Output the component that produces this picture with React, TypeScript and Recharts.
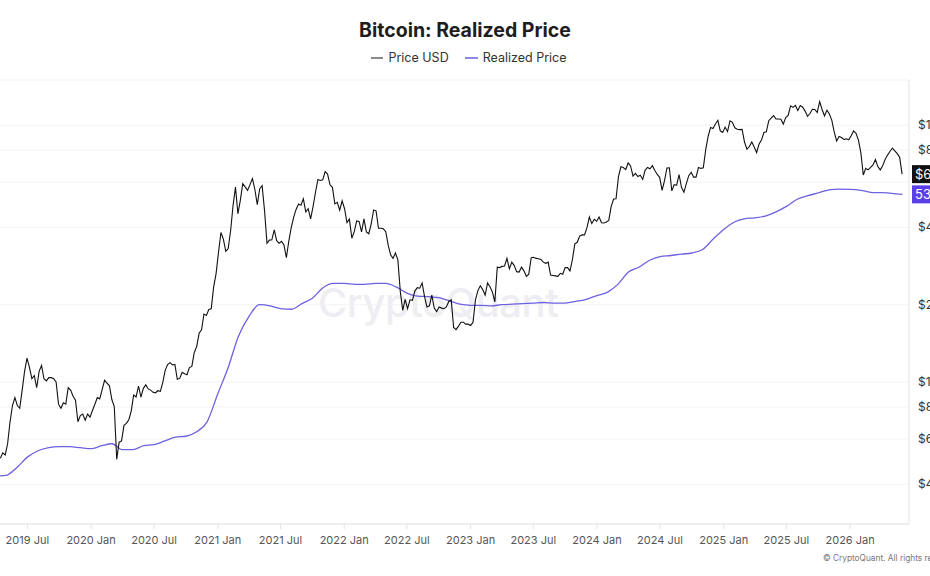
import { LineChart, Line, XAxis, YAxis, CartesianGrid, ReferenceLine } from 'recharts'

const DAY = 86400000
const WEEK = 7 * DAY

// weekly BTC price (USD), each block starts on the Sunday given with it
const price2019 = [
  5050, 5300, 5200, 5750, 7000, 8100, 8700, 8100, 7900, 9300, 11000, 12400,
  11400, 10300, 10600, 9500, 11000, 11600, 10300, 10100, 10400, 10400, 10300,
  10000, 8200, 7900, 8300, 8200, 9500, 9300, 8800, 8500, 7000, 7400, 7500, 7100,
  7500, 7300,
]
const price2020 = [
  7750, 8190, 8700, 8600, 9340, 10160, 9900, 9670, 8550, 8030, 5000, 5830, 5900,
  6780, 6900, 7130, 7700, 8900, 8750, 9650, 8730, 9450, 9750, 9400, 9300, 9120,
  9080, 9250, 9200, 9950, 11100, 11700, 11900, 11650, 11700, 10250, 10330, 10920,
  10770, 10670, 11380, 11500, 13030, 13740, 15480, 15960, 18400, 18180, 19150,
  19270, 23480, 26450,
]
const price2021 = [
  32000, 38200, 36000, 32300, 33100, 38900, 48700, 57400, 45200, 51000, 59200,
  57500, 55800, 58700, 62000, 56200, 49100, 56600, 58200, 46400, 34700, 35700,
  35800, 39100, 35500, 34700, 35300, 34200, 30500, 35400, 39900, 43800, 47000,
  49300, 48800, 51700, 46000, 47300, 43200, 48200, 54700, 61500, 60900, 61300,
  66000, 64500, 58600, 57300, 49400, 50100, 46700, 50800,
]
const price2022 = [
  47300, 41800, 43100, 36300, 38500, 42400, 42200, 38400, 43200, 38400, 37800,
  41300, 46800, 46400, 39700, 39700, 39500, 38500, 34100, 31300, 30300, 31800,
  29900, 22500, 19000, 21000, 19300, 20900, 20800, 22600, 23300, 23200, 24300,
  21500, 19600, 19800, 21800, 19400, 18800, 19600, 19400, 19300, 19600, 20600,
  20900, 16300, 16000, 16500, 17100, 17100, 16800, 16800,
]
const price2023 = [
  16600, 17100, 20900, 22700, 23700, 22900, 21800, 24300, 23500, 22400, 20500,
  28000, 27900, 28200, 28300, 30300, 27600, 29300, 28400, 26900, 26800, 28000,
  27100, 25800, 26300, 30500, 30600, 30300, 30200, 30000, 29300, 29000, 29300,
  26100, 26000, 25900, 25800, 26500, 26300, 27900, 27900, 27100, 30000, 34500,
  35000, 37000, 37400, 37400, 39900, 43900, 41400, 43000, 42300,
]
const price2024 = [
  43900, 41700, 41600, 42000, 42600, 48300, 51600, 51700, 63100, 68900, 68400,
  67200, 71300, 69400, 63400, 64900, 63100, 63800, 61500, 66900, 68500, 67700,
  69600, 66600, 64300, 62700, 55800, 60800, 68200, 68300, 55500, 58700, 58400,
  64200, 57300, 54800, 59200, 63600, 65600, 62800, 62800, 68400, 67900, 68200,
  80400, 90600, 98000, 97100, 101100, 104500, 95100, 93700,
]
const price2025 = [
  98300, 94500, 104000, 102600, 97700, 96500, 96100, 96300, 86000, 80700, 82600,
  86000, 82300, 78300, 84500, 87500, 93700, 94300, 104100, 106500, 109000,
  105700, 105700, 105500, 101000, 107100, 109200, 119000, 117300, 119400, 114200,
  119300, 117500, 113500, 108300, 111100, 115300, 115200, 112100, 123500, 115100,
  108600, 114500, 110600, 104700, 94200, 86800, 90400, 89500, 88000, 88500, 87800,
]
const price2026 = [
  91000, 95000, 93000, 87500, 78000, 64000, 68000, 67000, 68500, 70000, 73500,
  69000, 67000, 69500, 73500, 76500, 79000, 81500, 79500, 77500, 75000, 64500,
]

const priceBlocks: [number, number, number, number[]][] = [
  [2019, 4, 14, price2019],
  [2020, 1, 5, price2020],
  [2021, 1, 3, price2021],
  [2022, 1, 2, price2022],
  [2023, 1, 1, price2023],
  [2024, 1, 7, price2024],
  [2025, 1, 5, price2025],
  [2026, 1, 4, price2026],
]

// realized price (USD) on the 1st of each month, from April 2019
const realizedPrice = [
  4300, 4330, 4650, 5100, 5400, 5550, 5600, 5600, 5550,
  5500, 5650, 5750, 5450, 5450, 5650, 5700, 5900, 6100, 6150, 6400, 7000,
  9000, 11500, 15000, 18000, 20000, 19800, 19300, 19200, 20200, 21200, 23300, 24200,
  24200, 24000, 24000, 24200, 24200, 23400, 22200, 21600, 21500, 21300, 20700, 20100,
  19900, 19900, 19800, 20000, 20100, 20200, 20300, 20400, 20300, 20300, 20600, 21000,
  21700, 22400, 24000, 26800, 28000, 29800, 30800, 31100, 31500, 31800, 32800, 36000,
  39300, 42000, 43200, 43600, 44300, 46000, 48300, 51500, 53200, 54500, 56000, 56400,
  56300, 55800, 54800, 54600, 54300, 53800,
]

const xTicks: [number, number][] = [
  [2019, 7], [2020, 1], [2020, 7], [2021, 1], [2021, 7], [2022, 1], [2022, 7],
  [2023, 1], [2023, 7], [2024, 1], [2024, 7], [2025, 1], [2025, 7], [2026, 1],
]
const yTicks = [4000, 6000, 8000, 10000, 20000, 40000, 60000, 80000, 100000]

const MONTHS = ['Jan', 'Feb', 'Mar', 'Apr', 'May', 'Jun', 'Jul', 'Aug', 'Sep', 'Oct', 'Nov', 'Dec']

const priceData = priceBlocks.flatMap(([y, m, d, values]) =>
  values.map((price, i) => ({ t: Date.UTC(y, m - 1, d) + i * WEEK, price }))
)
const realizedData = realizedPrice.map((realized, i) => ({ t: Date.UTC(2019, 3 + i, 1), realized }))

const X_MIN = Date.UTC(2019, 3, 13)
const X_MAX = Date.UTC(2026, 5, 20)

const lastPrice = price2026[price2026.length - 1]
const lastRealized = realizedPrice[realizedPrice.length - 1]

const FONT = 'Inter, "Noto Sans", sans-serif'
const PURPLE = '#6c61e0'

const fmtK = (v: number) => `${(v / 1000).toFixed(1)}K`

function Badge({ viewBox, text, fill }: any) {
  const left = viewBox.x + viewBox.width + 3
  return (
    <g>
      <rect x={left} y={viewBox.y - 9} width={44} height={18} fill={fill} />
      <text x={left + 3} y={viewBox.y + 4.5} fill="#fff" fontSize={13} fontFamily={FONT}>
        {text}
      </text>
    </g>
  )
}

function PriceTick({ x, y, payload }: any) {
  // 60K sits under the price badge
  if (payload.value === 60000) return <g />
  return (
    <text x={x} y={y + 4} fill="#333" fontSize={12} fontFamily={FONT}>
      ${payload.value / 1000}K
    </text>
  )
}

export default function App() {
  return (
    <div
      style={{
        position: 'absolute',
        left: 0,
        top: 0,
        width: 930,
        height: 576,
        overflow: 'hidden',
        background: '#fff',
        fontFamily: FONT,
      }}
    >
      <div
        style={{
          position: 'absolute',
          top: 17,
          width: 930,
          textAlign: 'center',
          fontSize: 19.5,
          fontWeight: 700,
          color: '#1d1d1f',
          lineHeight: '26px',
        }}
      >
        Bitcoin: Realized Price
      </div>
      <div
        style={{
          position: 'absolute',
          top: 49,
          left: 4,
          width: 930,
          display: 'flex',
          justifyContent: 'center',
          gap: 16,
          fontSize: 12.5,
          color: '#333',
          lineHeight: '18px',
        }}
      >
        <span style={{ display: 'flex', alignItems: 'center', gap: 5 }}>
          <span style={{ width: 12, height: 1.5, background: '#8a8a8a' }} />
          Price USD
        </span>
        <span style={{ display: 'flex', alignItems: 'center', gap: 5 }}>
          <span style={{ width: 13, height: 1.5, background: '#8f86ea' }} />
          Realized Price
        </span>
      </div>
      <div
        style={{
          position: 'absolute',
          left: 318,
          top: 278,
          fontSize: 40,
          fontWeight: 500,
          color: '#ededf2',
          letterSpacing: -0.5,
        }}
      >
        CryptoQuant
      </div>
      <div style={{ position: 'absolute', left: 0, top: 0 }}>
        <LineChart width={930} height={576} margin={{ top: 80, right: 0, bottom: 22, left: 0 }}>
          <CartesianGrid vertical={false} stroke="#f3f3f5" />
          <XAxis
            dataKey="t"
            type="number"
            domain={[X_MIN, X_MAX]}
            allowDataOverflow
            ticks={xTicks.map(([y, m]) => Date.UTC(y, m - 1, 1))}
            interval={0}
            tickFormatter={(t: number) => {
              const d = new Date(t)
              return `${d.getUTCFullYear()} ${MONTHS[d.getUTCMonth()]}`
            }}
            height={30}
            stroke="#e2e2e2"
            tickSize={5}
            tickMargin={7}
            tick={{ fill: '#555', fontSize: 11, fontFamily: FONT }}
          />
          <YAxis
            type="number"
            scale="log"
            domain={[2800, 150000]}
            allowDataOverflow
            ticks={yTicks}
            interval={0}
            orientation="right"
            width={21}
            tickSize={0}
            tickMargin={9}
            stroke="#e2e2e2"
            tick={<PriceTick />}
          />
          <Line
            data={realizedData}
            dataKey="realized"
            type="monotone"
            stroke={PURPLE}
            strokeWidth={1.3}
            dot={false}
            isAnimationActive={false}
          />
          <Line
            data={priceData}
            dataKey="price"
            type="linear"
            stroke="#111"
            strokeWidth={1.1}
            dot={false}
            isAnimationActive={false}
          />
          <ReferenceLine y={lastPrice} stroke="none" label={<Badge text={`$${fmtK(lastPrice)}`} fill="#111" />} />
          <ReferenceLine y={lastRealized} stroke="none" label={<Badge text={fmtK(lastRealized)} fill="#5b3fe6" />} />
        </LineChart>
      </div>
      <div
        style={{
          position: 'absolute',
          left: 823,
          top: 553,
          fontSize: 8.3,
          color: '#777',
          whiteSpace: 'nowrap',
        }}
      >
        © CryptoQuant. All rights reserved.
      </div>
    </div>
  )
}
